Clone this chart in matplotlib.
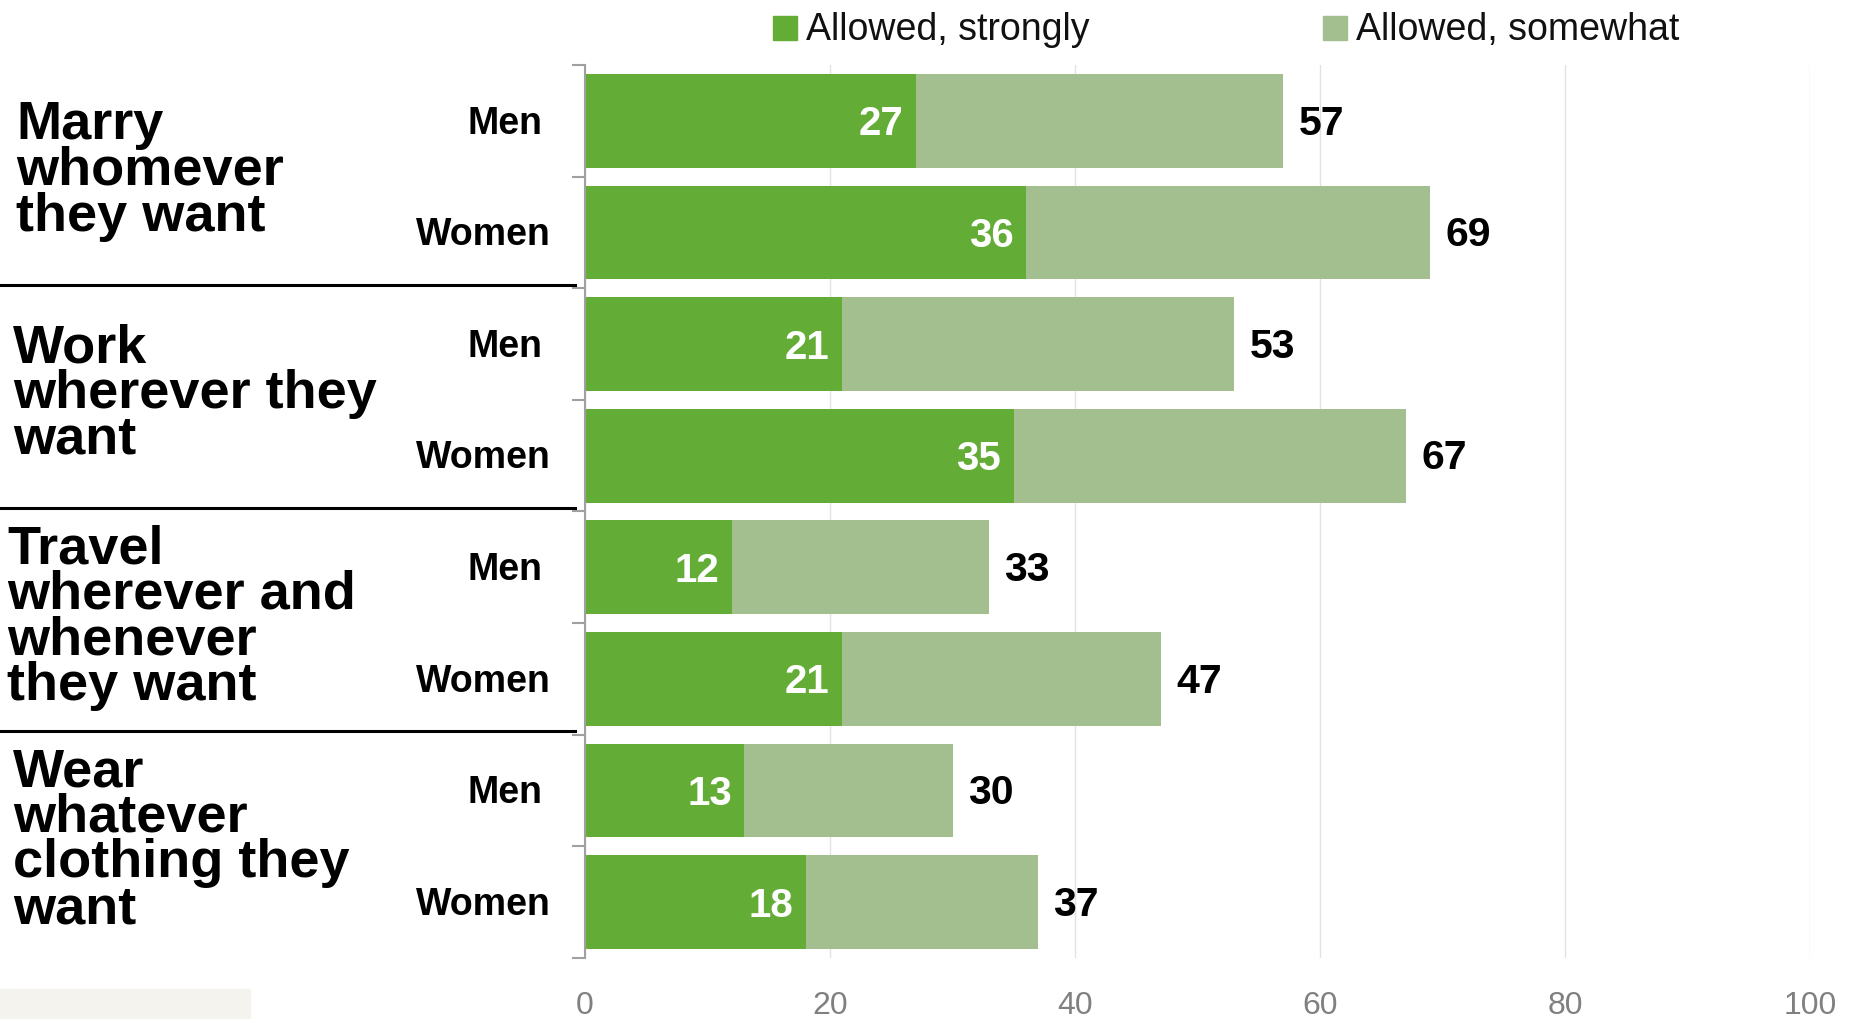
import matplotlib.pyplot as plt
import numpy as np
from matplotlib.patches import Rectangle
from matplotlib.lines import Line2D
from matplotlib.transforms import blended_transform_factory

plt.rcParams['font.family'] = ['Liberation Sans', 'DejaVu Sans']

# Survey data: share saying each freedom is allowed (strongly / total allowed)
groups = [
    ['Marry', 'whomever', 'they want'],
    ['Work', 'wherever they', 'want'],
    ['Travel', 'wherever and', 'whenever', 'they want'],
    ['Wear', 'whatever', 'clothing they', 'want'],
]
sexes = ['Men', 'Women']
strongly = [27, 36, 21, 35, 12, 21, 13, 18]
total = [57, 69, 53, 67, 33, 47, 30, 37]
somewhat = [t - s for t, s in zip(total, strongly)]

dark_green = '#63ad37'
light_green = '#a3be8f'

W, H = 1855, 1019
fig = plt.figure(figsize=(W / 100, H / 100), dpi=100)
ax = fig.add_axes([585 / W, 1 - 958 / H, 1225 / W, (958 - 65) / H])

y = np.arange(len(strongly))
ax.barh(y, strongly, height=0.84, color=dark_green, zorder=2)
ax.barh(y, somewhat, left=strongly, height=0.84, color=light_green, zorder=2)

# value labels
for yi, s, t in zip(y, strongly, total):
    ax.annotate(str(s), (s, yi), xytext=(-9, -2.5), textcoords='offset points',
                ha='right', va='center', color='white', fontsize=29, fontweight='bold')
    ax.annotate(str(t), (t, yi), xytext=(11, -2), textcoords='offset points',
                ha='left', va='center', color='black', fontsize=29.5, fontweight='bold')

ax.set_xlim(0, 100)
ax.set_ylim(len(strongly) - 0.5, -0.5)
ax.set_xticks(np.arange(0, 101, 20))
ax.xaxis.grid(True, color='#e2e2e2', linewidth=1, zorder=0)
ax.tick_params(axis='x', length=0, pad=24, labelsize=23, labelcolor='#808080')
ax.set_yticks(np.arange(-0.5, len(strongly), 1))
ax.set_yticklabels([])
ax.tick_params(axis='y', length=9.5, width=1.5, color='#a0a0a0', direction='out')
for side in ['top', 'right', 'bottom']:
    ax.spines[side].set_visible(False)
ax.spines['left'].set_color('#a0a0a0')
ax.spines['left'].set_linewidth(1.5)

trans = blended_transform_factory(fig.transFigure, ax.transData)

# Men / Women row labels
for yi in y:
    label = sexes[yi % 2]
    xr = 542 / W if label == 'Men' else 551 / W
    ax.annotate(label, xy=(xr, yi), xycoords=trans, xytext=(0, -2),
                textcoords='offset points', ha='right', va='center',
                fontsize=27, fontweight='bold', color='black')

# group titles and separators
title_x = [16, 13, 7, 13]
line_step = 32.8  # points between baselines
for g, lines in enumerate(groups):
    yc = 2 * g + 0.5
    n = len(lines)
    for i, line in enumerate(lines):
        dy = -(6 + (i - (n - 1) / 2) * line_step)
        ax.annotate(line, xy=(title_x[g] / W, yc), xycoords=trans,
                    xytext=(0, dy), textcoords='offset points',
                    ha='left', va='baseline', fontsize=39, fontweight='bold',
                    color='black', annotation_clip=False)
    if g < len(groups) - 1:
        ax.add_line(Line2D([0, 575 / W], [2 * g + 1.5 - 0.03] * 2, transform=trans,
                           color='black', linewidth=2.2, clip_on=False))

# legend along the top
legend_items = [('Allowed, strongly', dark_green, 773),
                ('Allowed, somewhat', light_green, 1323)]
for text, color, x0 in legend_items:
    fig.add_artist(Rectangle((x0 / W, 1 - 40 / H), 24 / W, 24 / H,
                             transform=fig.transFigure, color=color))
    fig.text((x0 + 33) / W, 1 - 30 / H, text, ha='left', va='center',
             fontsize=27, color='#111111')

# faint strip in the lower left corner
fig.add_artist(Rectangle((0, 0), 250 / W, 30 / H, transform=fig.transFigure,
                         color='#f5f3ee', zorder=0))

fig.savefig('out.png', dpi=100)
